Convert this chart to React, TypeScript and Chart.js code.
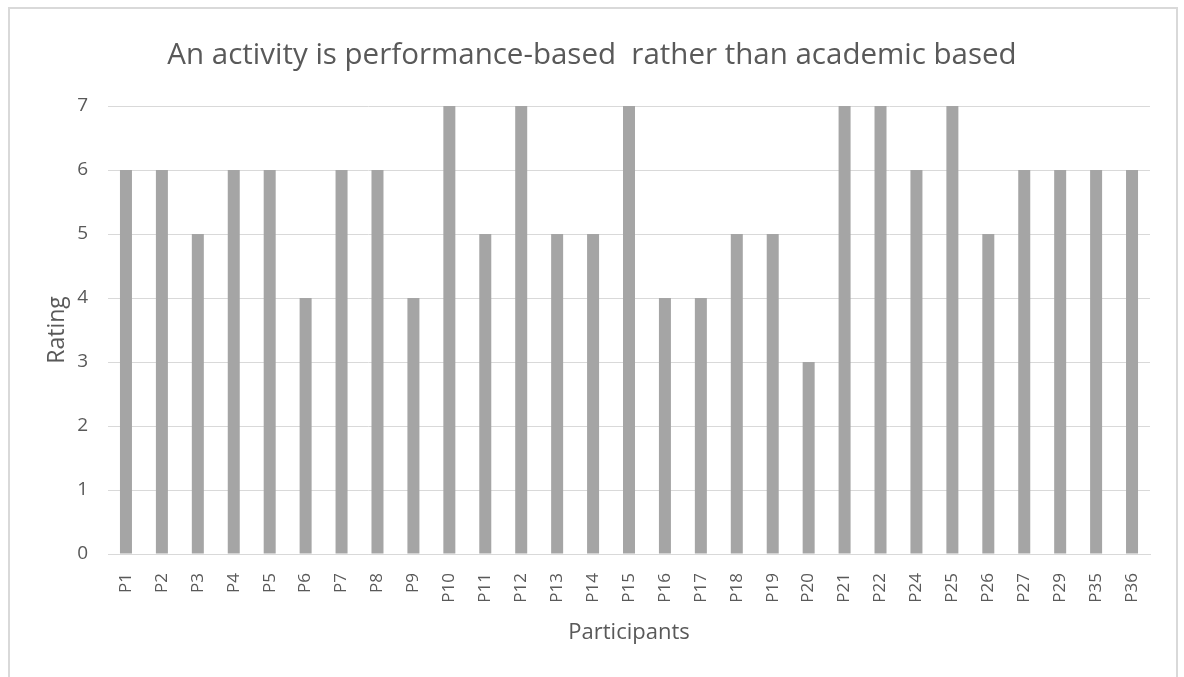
import React, { useEffect, useRef } from "react";
import { Chart, registerables } from "chart.js";

Chart.register(...registerables);

const participants = [
  "P1", "P2", "P3", "P4", "P5", "P6", "P7", "P8", "P9", "P10",
  "P11", "P12", "P13", "P14", "P15", "P16", "P17", "P18", "P19", "P20",
  "P21", "P22", "P24", "P25", "P26", "P27", "P29", "P35", "P36",
];

const ratings = [
  6, 6, 5, 6, 6, 4, 6, 6, 4, 7,
  5, 7, 5, 5, 7, 4, 4, 5, 5, 3,
  7, 7, 6, 7, 5, 6, 6, 6, 6,
];

const yTicks = [0, 1, 2, 3, 4, 5, 6, 7];

const chartTitle = "An activity is performance-based  rather than academic based";
const xTitle = "Participants";
const yTitle = "Rating";

const FONT = "'Open Sans', 'DejaVu Sans', sans-serif";
const TEXT = "#595959";
const GRID = "#d9d9d9";
const BAR = "#a5a5a5";

export default function App() {
  const canvasRef = useRef<HTMLCanvasElement | null>(null);

  useEffect(() => {
    const canvas = canvasRef.current;
    if (!canvas) return;
    const chart = new Chart(canvas, {
      type: "bar",
      data: {
        labels: participants,
        datasets: [
          {
            label: yTitle,
            data: ratings,
            backgroundColor: BAR,
            borderWidth: 0,
            categoryPercentage: 1,
            barPercentage: 0.334,
          },
        ],
      },
      options: {
        animation: false,
        responsive: false,
        maintainAspectRatio: false,
        layout: { padding: { left: 34, right: 34, top: 0, bottom: 0 } },
        plugins: {
          legend: { display: false },
          tooltip: { enabled: false },
          title: {
            display: true,
            text: chartTitle,
            color: TEXT,
            font: { family: FONT, size: 29.5, weight: "normal", lineHeight: 1.2 },
            padding: { top: 38.3, bottom: 32.3 },
          },
        },
        scales: {
          x: {
            grid: { display: false, drawTicks: false },
            border: { display: true, color: GRID, width: 1 },
            ticks: {
              color: TEXT,
              font: { family: FONT, size: 17 },
              minRotation: 90,
              maxRotation: 90,
              autoSkip: false,
              padding: 19,
            },
            title: {
              display: true,
              text: xTitle,
              color: TEXT,
              font: { family: FONT, size: 22, lineHeight: 1.2 },
              padding: { top: 0, bottom: 30.8 },
            },
            afterFit: (scale: any) => {
              scale.height = 123;
            },
          },
          y: {
            min: 0,
            max: 7,
            afterBuildTicks: (scale: any) => {
              scale.ticks = yTicks.map((v) => ({ value: v }));
            },
            grid: { color: GRID, lineWidth: 1, drawTicks: false },
            border: { display: false },
            ticks: {
              color: TEXT,
              font: { family: FONT, size: 19 },
              padding: 20,
            },
            title: {
              display: true,
              text: yTitle,
              color: TEXT,
              font: { family: FONT, size: 23, lineHeight: 1.2 },
              padding: { top: 9.2, bottom: 0 },
            },
            afterFit: (scale: any) => {
              scale.width = 74;
            },
          },
        },
      },
    });
    return () => chart.destroy();
  }, []);

  return (
    <div style={{ position: "fixed", left: 0, top: 0, width: 1184, height: 677, overflow: "hidden", background: "#fff" }}>
      <div
        style={{
          position: "absolute",
          left: 8,
          top: 7,
          width: 1166,
          height: 700,
          border: `2px solid ${GRID}`,
          boxSizing: "content-box",
        }}
      />
      <canvas
        ref={canvasRef}
        width={1184}
        height={677}
        style={{ position: "absolute", left: 0, top: 0, width: 1184, height: 677 }}
      />
    </div>
  );
}
